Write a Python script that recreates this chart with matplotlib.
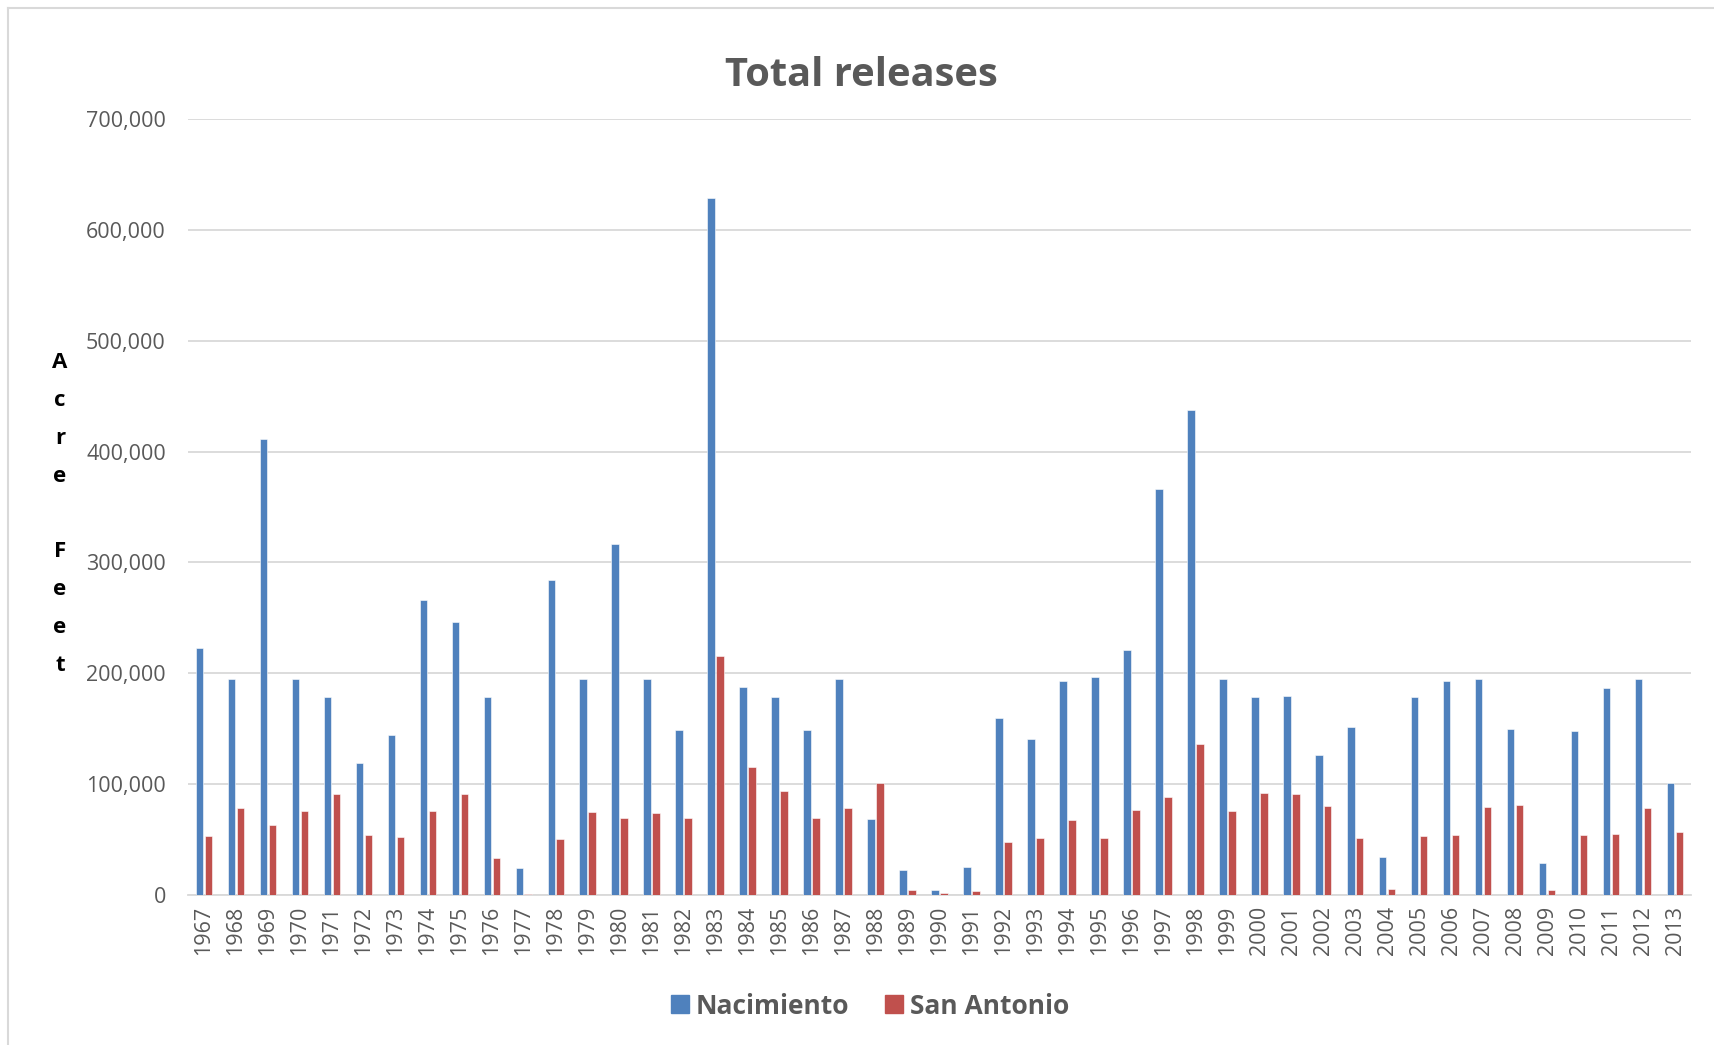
import numpy as np
import matplotlib
matplotlib.use("Agg")
from matplotlib import pyplot as plt
from matplotlib.ticker import FuncFormatter
from matplotlib.lines import Line2D

plt.rcParams['font.family'] = ['Open Sans', 'DejaVu Sans']

years = list(range(1967, 2014))

# acre feet released each year
nacimiento = [223000, 195000, 411000, 194400, 178800, 118800, 144500, 266400, 246500, 178200,
              24000, 283800, 195000, 316500, 195000, 149000, 629000, 188000, 178800, 149000,
              194400, 68600, 22200, 4800, 25300, 159800, 140900, 193200, 196800, 221200,
              365800, 437700, 194400, 178800, 179300, 126700, 151700, 34300, 178800, 193200,
              194400, 149900, 29200, 147500, 186300, 194700, 100800]
san_antonio = [52900, 78500, 63200, 75800, 91200, 53800, 52400, 75800, 91200, 33400,
               600, 50800, 74900, 69800, 74000, 69800, 215500, 115800, 94200, 69800,
               78500, 100800, 4800, 1800, 3300, 47800, 51700, 68000, 51700, 76700,
               88100, 136300, 75800, 92100, 90800, 80400, 51500, 5400, 52900, 54200,
               79100, 81500, 4800, 54200, 55300, 78800, 56900]

blue = "#4f81bd"
red = "#c0504d"
gray = "#595959"

fig = plt.figure(figsize=(17.14, 10.45), dpi=100)
ax = fig.add_axes([188 / 1714, 150 / 1045, 1503 / 1714, 776 / 1045])

x = np.arange(len(years))
w = 0.235
ax.bar(x - 0.14, nacimiento, w, color=blue, edgecolor="white", linewidth=0.4, zorder=3)
ax.bar(x + 0.14, san_antonio, w, color=red, edgecolor="white", linewidth=0.4, zorder=3)

ax.set_xlim(-0.5, len(years) - 0.5)
ax.set_ylim(0, 700000)
ax.set_yticks(np.arange(0, 700001, 100000))
ax.yaxis.set_major_formatter(FuncFormatter(lambda v, p: f"{int(v):,}"))
ax.set_xticks(x)
ax.set_xticklabels([str(y) for y in years], rotation=90)
ax.tick_params(axis="both", length=0, labelsize=15.5, colors=gray)
ax.tick_params(axis="y", pad=16)
ax.tick_params(axis="x", pad=8)
ax.grid(axis="y", color="#d9d9d9", linewidth=1.3, zorder=0)
for s in ["top", "right", "left"]:
    ax.spines[s].set_visible(False)
ax.spines["bottom"].set_color("#d9d9d9")
ax.spines["bottom"].set_linewidth(1.3)

fig.text(861 / 1714, 1 - 76 / 1045, "Total releases", ha="center", va="center",
         fontsize=28.7, fontweight="bold", color=gray)

fig.text(60 / 1714, 0.508, "A\nc\nr\ne\n\nF\ne\ne\nt", ha="center", va="center",
         fontsize=16, fontweight="bold", color="black", linespacing=2.05)

handles = [Line2D([], [], marker="s", linestyle="none", markersize=13.5, color=blue),
           Line2D([], [], marker="s", linestyle="none", markersize=13.5, color=red)]
leg = fig.legend(handles, ["Nacimiento", "San Antonio"], loc="center",
                 bbox_to_anchor=(868 / 1714, 1 - 1006 / 1045), ncol=2, frameon=False,
                 prop={"weight": "bold", "size": 19}, handletextpad=0.1, columnspacing=1.2,
                 handlelength=1.0)
for t in leg.get_texts():
    t.set_color(gray)

# outer chart frame
fig.add_artist(Line2D([8 / 1714, 8 / 1714], [0, 1 - 8 / 1045], transform=fig.transFigure,
                      color="#d9d9d9", linewidth=1.5))
fig.add_artist(Line2D([8 / 1714, 1], [1 - 8 / 1045, 1 - 8 / 1045], transform=fig.transFigure,
                      color="#d9d9d9", linewidth=1.5))

fig.savefig("out.png", dpi=100, facecolor="white")
